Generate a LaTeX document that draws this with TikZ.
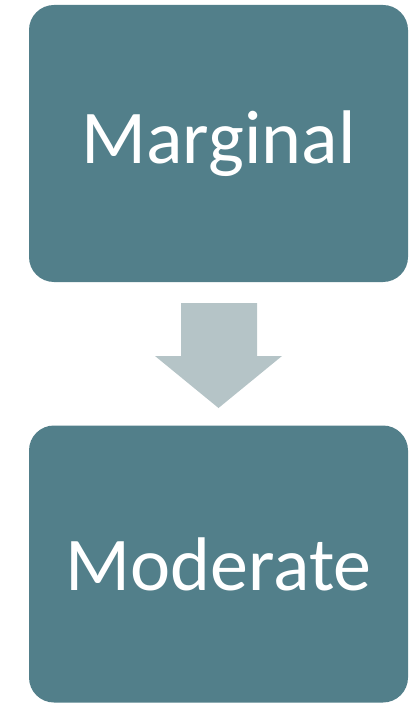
\documentclass[tikz,border=0pt]{standalone}
\usepackage{fontspec}
\setmainfont{Carlito}
\definecolor{boxfill}{RGB}{82,127,138}
\definecolor{arrowfill}{RGB}{181,196,199}
\begin{document}
\begin{tikzpicture}[x=1pt,y=-1pt,
  stagebox/.style={fill=boxfill,draw=none,rounded corners=25pt,minimum width=379pt,minimum height=277pt,text=white,font=\fontsize{76}{90}\selectfont,inner sep=0pt},
  downarrow/.style={fill=arrowfill,draw=none}]
\useasboundingbox (0,0) rectangle (419,703);
\node[stagebox] (top) at (218.5,143.5) {Marginal};
\node[stagebox] (bottom) at (218.5,564) {Moderate};
\coordinate (a1) at (181,303);
\coordinate (a2) at (257,303);
\fill[downarrow] (a1) -- (a2) -- (257,356) -- (282,356) -- (218.5,408) -- (155,356) -- (181,356) -- cycle;
\end{tikzpicture}
\end{document}
